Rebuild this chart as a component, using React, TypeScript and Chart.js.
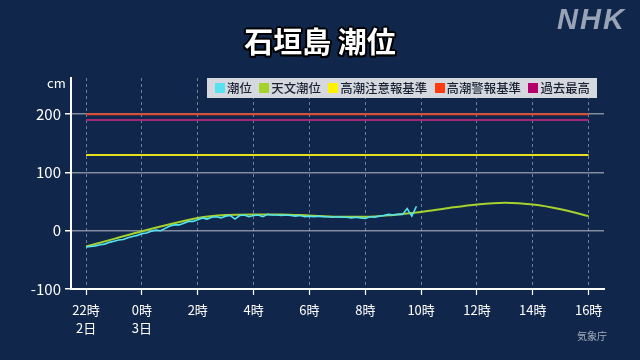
import React, { useEffect, useRef } from "react";
import { Chart, registerables } from "chart.js";

Chart.register(...registerables);

// Hours since 22時 on the 2nd
const xTickHours = [0, 2, 4, 6, 8, 10, 12, 14, 16, 18];
const xTickLabels: (string | string[])[] = [
  ["22時", "2日"], ["0時", "3日"], "2時", "4時", "6時", "8時", "10時", "12時", "14時", "16時",
];
const yTickValues = [-100, 0, 100, 200];

// Observed tide (潮位), every 10 minutes from 22:00 to 9:50
const obsStepMinutes = 10;
const observed = [
  -28, -27, -26, -24, -23, -20,
  -18, -16, -15, -12, -10, -8,
  -5, -4, -1, 1, 0, 4,
  8, 10, 10, 13, 16, 16,
  19, 22, 20, 23, 24, 22,
  25, 26, 20, 26, 27, 24,
  26, 27, 24, 28, 27, 27,
  26, 27, 26, 25, 26, 24,
  25, 24, 25, 24, 24, 23,
  24, 23, 23, 22, 23, 22,
  21, 24, 23, 25, 26, 28,
  27, 28, 28, 38, 25, 42,
];

// Astronomical tide (天文潮位), hourly 22時 -> 16時
const astronomical = [
  -27, -14, -1, 11, 22, 27, 28, 28, 26, 24, 24, 27, 32, 39, 45, 48, 45, 37, 25,
];

const advisoryLevel = 130; // 高潮注意報基準
const warningLevel = 200; // 高潮警報基準
const recordHigh = 190; // 過去最高

const legendItems = [
  { label: "潮位", color: "#55e3f2" },
  { label: "天文潮位", color: "#a5d22c" },
  { label: "高潮注意報基準", color: "#fff200" },
  { label: "高潮警報基準", color: "#ff3a12" },
  { label: "過去最高", color: "#b8006c" },
];

const FONT = '"Noto Sans CJK JP", "Noto Sans", sans-serif';

export default function App() {
  const ref = useRef<HTMLCanvasElement | null>(null);

  useEffect(() => {
    document.body.style.margin = "0";
    const ctx = ref.current!.getContext("2d")!;
    const span = [xTickHours[0], xTickHours[xTickHours.length - 1]];
    const chart = new Chart(ctx, {
      type: "line",
      data: {
        datasets: [
          {
            label: "潮位",
            data: observed.map((v, i) => ({ x: (i * obsStepMinutes) / 60, y: v })),
            borderColor: "#55e3f2",
            borderWidth: 1.6,
            pointRadius: 0,
            tension: 0,
            order: 0,
          },
          {
            label: "天文潮位",
            data: astronomical.map((v, i) => ({ x: i, y: v })),
            borderColor: "#a5d22c",
            borderWidth: 2,
            pointRadius: 0,
            cubicInterpolationMode: "monotone",
            order: 1,
          },
          {
            label: "高潮注意報基準",
            data: span.map((x) => ({ x, y: advisoryLevel })),
            borderColor: "#e6df1c",
            borderWidth: 2,
            pointRadius: 0,
            order: 2,
          },
          {
            label: "過去最高",
            data: span.map((x) => ({ x, y: recordHigh })),
            borderColor: "#a02a78",
            borderWidth: 2,
            pointRadius: 0,
            order: 3,
          },
          {
            label: "高潮警報基準",
            data: span.map((x) => ({ x, y: warningLevel })),
            borderColor: "#e0492f",
            borderWidth: 2,
            pointRadius: 0,
            order: 2,
          },
        ],
      },
      options: {
        animation: false,
        responsive: false,
        maintainAspectRatio: false,
        layout: { padding: { left: 0, top: 78, right: 36, bottom: 0 } },
        plugins: {
          legend: { display: false },
          title: { display: false },
          tooltip: { enabled: false },
        },
        scales: {
          x: {
            type: "linear",
            min: -0.54,
            max: 18.55,
            afterBuildTicks: (s: any) => {
              s.ticks = xTickHours.map((v) => ({ value: v }));
            },
            afterFit: (s: any) => {
              s.height = 71;
            },
            ticks: {
              color: "#ffffff",
              font: { family: FONT, size: 13, lineHeight: 1.4 },
              padding: 6,
              maxRotation: 0,
              autoSkip: false,
              callback: (v: any) => {
                const i = xTickHours.indexOf(Number(v));
                return i >= 0 ? xTickLabels[i] : "";
              },
            },
            grid: {
              color: "rgba(190,200,215,0.55)",
              lineWidth: 1,
              tickColor: "#ffffff",
              tickLength: 6,
              tickWidth: 1.2,
              tickBorderDash: [],
            },
            border: { color: "#ffffff", width: 2, dash: [3, 3] },
          },
          y: {
            type: "linear",
            min: -100,
            max: 262,
            afterBuildTicks: (s: any) => {
              s.ticks = yTickValues.map((v) => ({ value: v }));
            },
            afterFit: (s: any) => {
              s.width = 71;
            },
            ticks: {
              color: "#ffffff",
              font: { family: FONT, size: 15 },
              padding: 4,
            },
            grid: {
              color: "rgba(150,160,175,0.85)",
              lineWidth: 1.5,
              tickColor: "#ffffff",
              tickLength: 6,
            },
            border: { color: "#ffffff", width: 2 },
          },
        },
      },
    } as any);
    return () => chart.destroy();
  }, []);

  return (
    <div
      style={{
        position: "fixed",
        left: 0,
        top: 0,
        width: 640,
        height: 360,
        background: "#10264a",
        overflow: "hidden",
        fontFamily: FONT,
      }}
    >
      <canvas ref={ref} width={640} height={360} style={{ position: "absolute", left: 0, top: 0 }} />
      <div
        style={{
          position: "absolute",
          left: 0,
          width: 640,
          top: 21,
          textAlign: "center",
          color: "#ffffff",
          fontWeight: 700,
          fontSize: 29,
          lineHeight: "38px",
          textShadow:
            "2px 0 0 #000, -2px 0 0 #000, 0 2px 0 #000, 0 -2px 0 #000, 1.5px 1.5px 0 #000, -1.5px 1.5px 0 #000, 1.5px -1.5px 0 #000, -1.5px -1.5px 0 #000",
        }}
      >
        石垣島 潮位
      </div>
      <div
        style={{
          position: "absolute",
          left: 557,
          top: 2,
          color: "#98a3b6",
          fontFamily: '"Liberation Sans", "DejaVu Sans", sans-serif',
          fontWeight: 700,
          fontStyle: "italic",
          fontSize: 29,
          lineHeight: "34px",
          letterSpacing: 2,
        }}
      >
        NHK
      </div>
      <div
        style={{
          position: "absolute",
          left: 47,
          top: 74,
          color: "#ffffff",
          fontSize: 13,
          lineHeight: "18px",
        }}
      >
        cm
      </div>
      <div
        style={{
          position: "absolute",
          left: 207,
          top: 78,
          width: 390,
          height: 20,
          background: "#d5d9df",
          display: "flex",
          alignItems: "center",
          boxSizing: "border-box",
          paddingLeft: 8,
          whiteSpace: "nowrap",
          overflow: "hidden",
        }}
      >
        {legendItems.map((it) => (
          <div
            key={it.label}
            style={{ display: "flex", alignItems: "center", marginRight: 7.5, flexShrink: 0, whiteSpace: "nowrap" }}
          >
            <span
              style={{ display: "inline-block", width: 10, height: 10, background: it.color, marginRight: 2, flexShrink: 0 }}
            />
            <span style={{ fontSize: 12.4, color: "#1a2233", lineHeight: "20px", fontWeight: 500, whiteSpace: "nowrap" }}>
              {it.label}
            </span>
          </div>
        ))}
      </div>
      <div
        style={{
          position: "absolute",
          left: 577,
          top: 328,
          color: "#a4adbd",
          fontSize: 10,
          lineHeight: "16px",
        }}
      >
        気象庁
      </div>
    </div>
  );
}
